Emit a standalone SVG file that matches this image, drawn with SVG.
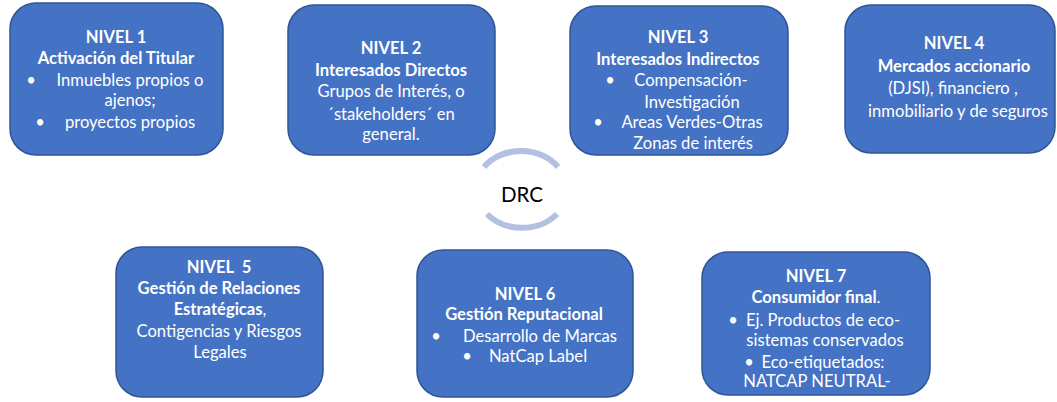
<svg xmlns="http://www.w3.org/2000/svg" width="1057" height="402" viewBox="0 0 1057 402">
<style>
.box{fill:#4472C4;stroke:#2F5597;stroke-width:1.5}
text{font-family:Lato,"Noto Sans","Liberation Sans",sans-serif;font-size:16.6px;fill:#fff;text-anchor:middle}
.b{font-weight:bold}
.drc{fill:#000;font-size:20.5px}
.arc{fill:none;stroke:#B3C0E2;stroke-width:6}
</style>
<rect width="1057" height="402" fill="#fff"/>
<g id="connectors">
<path class="arc" d="M484,167 A45,37 0 0 1 558,167"/>
<path class="arc" d="M487,214 A45,37 0 0 0 557,214"/>
</g>
<g id="drc"><text class="drc" x="522" y="202">DRC</text></g>
<g id="nivel1">
<rect class="box" x="10" y="3" width="213" height="152" rx="26"/>
<text class="b" x="116" y="43">NIVEL 1</text>
<text class="b" x="116" y="64">Activación del Titular</text>
<text x="31" y="86">•</text><text x="130" y="86">Inmuebles propios o</text>
<text x="130" y="106">ajenos;</text>
<text x="40" y="128">•</text><text x="130" y="128">proyectos propios</text>
</g>
<g id="nivel2">
<rect class="box" x="288" y="5" width="207" height="150" rx="26"/>
<text class="b" x="391" y="54">NIVEL 2</text>
<text class="b" x="391" y="76">Interesados Directos</text>
<text x="391" y="97">Grupos de Interés, o</text>
<text x="391" y="120">´stakeholders´ en</text>
<text x="391" y="140">general.</text>
</g>
<g id="nivel3">
<rect class="box" x="570" y="6" width="218" height="149" rx="26"/>
<text class="b" x="678" y="43">NIVEL 3</text>
<text class="b" x="678" y="65">Interesados Indirectos</text>
<text x="610" y="86">•</text><text x="691" y="86">Compensación-</text>
<text x="692" y="108">Investigación</text>
<text x="598" y="128">•</text><text x="692" y="128">Areas Verdes-Otras</text>
<text x="693" y="149">Zonas de interés</text>
</g>
<g id="nivel4">
<rect class="box" x="845" y="5" width="210" height="148" rx="26"/>
<text class="b" x="954" y="49">NIVEL 4</text>
<text class="b" x="954" y="72">Mercados accionario</text>
<text x="953" y="94">(DJSI), financiero ,</text>
<text x="958" y="117">inmobiliario y de seguros</text>
</g>
<g id="nivel5">
<rect class="box" x="116" y="247" width="207" height="150" rx="26"/>
<text class="b" x="219" y="273">NIVEL&#160; 5</text>
<text class="b" x="219" y="294">Gestión de Relaciones</text>
<text x="220" y="315"><tspan class="b">Estratégicas</tspan>,</text>
<text x="219" y="337">Contigencias y Riesgos</text>
<text x="220" y="358">Legales</text>
</g>
<g id="nivel6">
<rect class="box" x="417" y="250" width="216" height="147" rx="26"/>
<text class="b" x="525" y="300">NIVEL 6</text>
<text class="b" x="524" y="320">Gestión Reputacional</text>
<text x="436" y="342">•</text><text x="540" y="342">Desarrollo de Marcas</text>
<text x="467" y="362">•</text><text x="538" y="362">NatCap Label</text>
</g>
<g id="nivel7">
<rect class="box" x="702" y="252" width="228" height="143" rx="26"/>
<text class="b" x="816" y="282">NIVEL 7</text>
<text x="816" y="303"><tspan class="b">Consumidor final</tspan>.</text>
<text x="733" y="326">•</text><text x="823" y="326">Ej. Productos de eco-</text>
<text x="825" y="346">sistemas conservados</text>
<text x="749" y="368">•</text><text x="823" y="368">Eco-etiquetados:</text>
<text x="817" y="387">NATCAP NEUTRAL-</text>
</g>
</svg>
